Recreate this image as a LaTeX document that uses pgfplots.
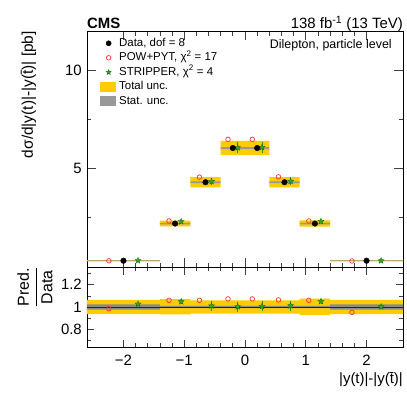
\documentclass[border=0pt]{standalone}
\usepackage{fontspec}
\setmainfont{Liberation Sans}
\usepackage{amsmath}
\usepackage{pgfplots}
\usepackage{pgfplotstable}
\pgfplotsset{compat=1.18}
\definecolor{totc}{HTML}{FFCC00}
\definecolor{statc}{HTML}{999999}
\definecolor{powc}{HTML}{FF3333}
\definecolor{strfill}{HTML}{33AA22}
\definecolor{strdraw}{HTML}{116611}

% filled five-point star
\pgfdeclareplotmark{fstar}{%
  \pgfpathmoveto{\pgfpointpolar{90}{\pgfplotmarksize}}%
  \pgfpathlineto{\pgfpointpolar{126}{0.42\pgfplotmarksize}}%
  \pgfpathlineto{\pgfpointpolar{162}{\pgfplotmarksize}}%
  \pgfpathlineto{\pgfpointpolar{198}{0.42\pgfplotmarksize}}%
  \pgfpathlineto{\pgfpointpolar{234}{\pgfplotmarksize}}%
  \pgfpathlineto{\pgfpointpolar{270}{0.42\pgfplotmarksize}}%
  \pgfpathlineto{\pgfpointpolar{306}{\pgfplotmarksize}}%
  \pgfpathlineto{\pgfpointpolar{342}{0.42\pgfplotmarksize}}%
  \pgfpathlineto{\pgfpointpolar{18}{\pgfplotmarksize}}%
  \pgfpathlineto{\pgfpointpolar{54}{0.42\pgfplotmarksize}}%
  \pgfpathclose
  \pgfusepathqfillstroke
}

\pgfplotsset{
  area legend/.style={legend image code/.code={\fill[##1] (0bp,-5bp) rectangle (16bp,5bp);}},
  band/.style={draw=none, forget plot, unbounded coords=jump},
  cmsaxis/.style={
    scale only axis, width=316bp,
    xmin=-2.6, xmax=2.6,
    clip mode=individual,
    tick align=inside,
    axis line style={line width=0.8bp},
    tick style={black!75, line width=0.7bp},
    xtick={-2,-1,0,1,2}, minor x tick num=4,
    /pgf/number format/assume math mode=true,
    tick label style={font=\fontsize{15}{18}\selectfont},
    yticklabel style={inner xsep=5bp, inner ysep=0pt},
  },
}

% top panel points: data, POW+PYT, STRIPPER (+ its unc.)
\pgfplotstableread{
xd    xp    xs    d    p     s     se
-2.00 -2.24 -1.76 0.32 0.315 0.329 0.003
-1.15 -1.25 -1.05 2.21 2.343 2.316 0.044
-0.65 -0.75 -0.55 4.31 4.569 4.353 0.19
-0.20 -0.28 -0.12 6.05 6.49  6.068 0.27
 0.20  0.12  0.28 6.05 6.49  6.086 0.27
 0.65  0.55  0.75 4.31 4.586 4.362 0.19
 1.15  1.05  1.25 2.21 2.343 2.32  0.044
 2.00  1.76  2.24 0.32 0.305 0.321 0.003
}\toppts

% ratio panel points
\pgfplotstableread{
xp    rp    xs    rs    rse
-2.24 0.985 -1.76 1.027 0.010
-1.25 1.060 -1.05 1.048 0.020
-0.75 1.060 -0.55 1.010 0.045
-0.28 1.073 -0.12 1.003 0.045
 0.12 1.073  0.28 1.006 0.045
 0.55 1.064  0.75 1.012 0.045
 1.05 1.060  1.25 1.050 0.020
 1.76 0.952  2.24 1.003 0.010
}\ratiopts

\begin{document}
\begin{tikzpicture}

\begin{axis}[cmsaxis,
  at={(0,0)}, anchor=north west, height=236bp,
  ymin=0, ymax=12,
  ytick={5,10}, yticklabels={5,10}, minor ytick={2.5,7.5},
  xticklabels={},
  major tick length=9bp, minor tick length=4.5bp,
  every axis y label/.style={at={(rel axis cs:0,1)}, xshift=-54bp, rotate=90,
    anchor=base east, inner sep=0pt, font=\fontsize{15.5}{18}\selectfont},
  ylabel={dσ/d|y(t)|-|y(\={t})| [pb]},
  legend cell align=left,
  legend style={draw=none, fill=none, at={(0.041,0.972)}, anchor=north west,
    inner sep=0pt, row sep=3.5bp, font=\fontsize{11.5}{13}\selectfont,
    nodes={inner sep=0pt, text height=8.5bp, text depth=2.5bp},
    /tikz/every odd column/.append style={column sep=3bp}},
]
\addlegendimage{only marks, mark=*, black, mark size=2.6bp}
\addlegendentry{Data, dof = 8}
\addlegendimage{only marks, mark=o, powc, mark size=2.3bp, line width=0.7bp}
\addlegendentry{POW+PYT, χ\textsuperscript{2} = 17}
\addlegendimage{only marks, mark=fstar, mark size=2.8bp, mark options={fill=strfill, draw=strdraw, line width=0.3bp}}
\addlegendentry{STRIPPER, χ\textsuperscript{2} = 4}
\addlegendimage{area legend, fill=totc, draw=none}
\addlegendentry{Total unc.}
\addlegendimage{area legend, fill=statc, draw=none}
\addlegendentry{Stat. unc.}

% total unc. boxes, one per bin
\addplot[band, fill=totc] coordinates {
  (-2.6,0.29) (-1.4,0.29) (-1.4,0.35) (-2.6,0.35) (nan,nan)
  (-1.4,2.06) (-0.9,2.06) (-0.9,2.36) (-1.4,2.36) (nan,nan)
  (-0.9,4.05) (-0.4,4.05) (-0.4,4.57) (-0.9,4.57) (nan,nan)
  (-0.4,5.69) (0.0,5.69) (0.0,6.41) (-0.4,6.41) (nan,nan)
  (0.0,5.69) (0.4,5.69) (0.4,6.41) (0.0,6.41) (nan,nan)
  (0.4,4.05) (0.9,4.05) (0.9,4.57) (0.4,4.57) (nan,nan)
  (0.9,2.05) (1.4,2.05) (1.4,2.37) (0.9,2.37) (nan,nan)
  (1.4,0.29) (2.6,0.29) (2.6,0.35) (1.4,0.35)
};
% stat. unc. boxes
\addplot[band, fill=statc] coordinates {
  (-2.6,0.305) (-1.4,0.305) (-1.4,0.335) (-2.6,0.335) (nan,nan)
  (-1.4,2.17) (-0.9,2.17) (-0.9,2.25) (-1.4,2.25) (nan,nan)
  (-0.9,4.27) (-0.4,4.27) (-0.4,4.35) (-0.9,4.35) (nan,nan)
  (-0.4,6.00) (0.0,6.00) (0.0,6.10) (-0.4,6.10) (nan,nan)
  (0.0,6.00) (0.4,6.00) (0.4,6.10) (0.0,6.10) (nan,nan)
  (0.4,4.27) (0.9,4.27) (0.9,4.35) (0.4,4.35) (nan,nan)
  (0.9,2.17) (1.4,2.17) (1.4,2.25) (0.9,2.25) (nan,nan)
  (1.4,0.305) (2.6,0.305) (2.6,0.335) (1.4,0.335)
};

\addplot[only marks, forget plot, mark=o, powc, mark size=2.3bp, line width=0.7bp]
  table[x=xp, y=p] {\toppts};
\addplot[only marks, forget plot, mark=fstar, mark size=3.2bp,
  mark options={fill=strfill, draw=strdraw, line width=0.3bp},
  error bars/.cd, y dir=both, y explicit, error mark=none,
  error bar style={strfill!85!black, line width=0.8bp}]
  table[x=xs, y=s, y error=se] {\toppts};
\addplot[only marks, forget plot, mark=*, black, mark size=2.8bp]
  table[x=xd, y=d] {\toppts};

\node[anchor=north east, inner sep=0pt, font=\fontsize{12.5}{15}\selectfont]
  at (rel axis cs:0.965,0.966) {Dilepton, particle level};
\node[anchor=base west, inner sep=0pt, font=\fontsize{15}{18}\selectfont\bfseries]
  at ([yshift=2bp]rel axis cs:0,1) {CMS};
\node[anchor=base east, inner sep=0pt, font=\fontsize{15}{18}\selectfont]
  at ([yshift=2bp]rel axis cs:1,1) {138 fb\textsuperscript{-1} (13 TeV)};
\end{axis}

\begin{axis}[cmsaxis,
  at={(0,-236bp)}, anchor=north west, height=80bp,
  ymin=0.64, ymax=1.36,
  ytick={0.8,1,1.2}, yticklabels={0.8,1,1.2}, minor ytick={0.7,0.9,1.1,1.3},
  xticklabels={−2,−1,0,1,2},
  xticklabel style={inner ysep=8bp, inner xsep=0pt},
  major tick length=7.5bp, minor tick length=4bp,
  every axis y label/.style={at={(rel axis cs:0,1)}, xshift=-52bp, rotate=90,
    anchor=east, inner sep=0pt, font=\fontsize{16}{19}\selectfont},
  ylabel={$\dfrac{\text{Pred.}}{\text{Data}}$},
  every axis x label/.style={at={(rel axis cs:1,0)}, yshift=-25bp,
    anchor=north east, inner sep=0pt, font=\fontsize{15}{18}\selectfont},
  xlabel={|y(t)|-|y(\={t})|},
]
% relative total unc.
\addplot[band, fill=totc] coordinates {
  (-2.6,0.935) (-1.4,0.935) (-1.4,1.065) (-2.6,1.065) (nan,nan)
  (-1.4,0.934) (-0.9,0.934) (-0.9,1.070) (-1.4,1.070) (nan,nan)
  (-0.9,0.940) (-0.4,0.940) (-0.4,1.060) (-0.9,1.060) (nan,nan)
  (-0.4,0.940) (0.0,0.940) (0.0,1.060) (-0.4,1.060) (nan,nan)
  (0.0,0.940) (0.4,0.940) (0.4,1.060) (0.0,1.060) (nan,nan)
  (0.4,0.940) (0.9,0.940) (0.9,1.060) (0.4,1.060) (nan,nan)
  (0.9,0.928) (1.4,0.928) (1.4,1.076) (0.9,1.076) (nan,nan)
  (1.4,0.935) (2.6,0.935) (2.6,1.065) (1.4,1.065)
};
% relative stat. unc.
\addplot[band, fill=statc!90!black] coordinates {
  (-2.6,0.977) (-1.4,0.977) (-1.4,1.023) (-2.6,1.023) (nan,nan)
  (-1.4,0.990) (-0.9,0.990) (-0.9,1.010) (-1.4,1.010) (nan,nan)
  (-0.9,0.990) (-0.4,0.990) (-0.4,1.010) (-0.9,1.010) (nan,nan)
  (-0.4,0.990) (0.0,0.990) (0.0,1.010) (-0.4,1.010) (nan,nan)
  (0.0,0.990) (0.4,0.990) (0.4,1.010) (0.0,1.010) (nan,nan)
  (0.4,0.990) (0.9,0.990) (0.9,1.010) (0.4,1.010) (nan,nan)
  (0.9,0.990) (1.4,0.990) (1.4,1.010) (0.9,1.010) (nan,nan)
  (1.4,0.976) (2.6,0.976) (2.6,1.024) (1.4,1.024)
};
\addplot[black!85, line width=0.8bp, forget plot] coordinates {(-2.6,1) (2.6,1)};

\addplot[only marks, forget plot, mark=o, powc, mark size=2.3bp, line width=0.7bp]
  table[x=xp, y=rp] {\ratiopts};
\addplot[only marks, forget plot, mark=fstar, mark size=3.2bp,
  mark options={fill=strfill, draw=strdraw, line width=0.3bp},
  error bars/.cd, y dir=both, y explicit, error mark=none,
  error bar style={strfill!85!black, line width=0.8bp}]
  table[x=xs, y=rs, y error=rse] {\ratiopts};
\end{axis}
% page frame matching the reference's margins
\path (-87bp,31bp) rectangle (320bp,-363bp);
\end{tikzpicture}
\end{document}
